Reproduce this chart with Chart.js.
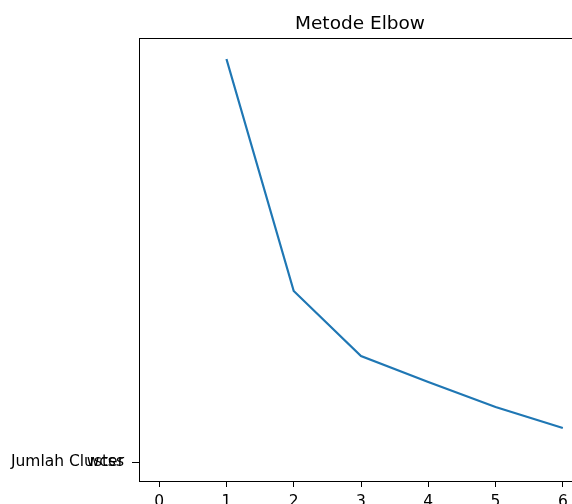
<!DOCTYPE html>
<html>
<head>
<meta charset="utf-8">
<script src="https://cdn.jsdelivr.net/npm/chart.js@4/dist/chart.umd.min.js"></script>
<style>
  html, body { margin: 0; padding: 0; background: #fff; }
  #wrap { width: 572px; height: 504px; overflow: hidden; position: relative; }
  canvas { display: block; }
</style>
</head>
<body>
<div id="wrap">
  <canvas id="elbowChart" width="590" height="504"></canvas>
</div>
<script>
// data (wcss in relative units, 0 = the lone y tick)
const clusters = [1, 2, 3, 4, 5, 6];
const wcss = [403, 171, 106, 80, 55, 34];
const xTicks = [0, 1, 2, 3, 4, 5, 6];
const yTickLabels = ['Jumlah Cluster', 'wcss'];
const chartTitle = 'Metode Elbow';

const FONT = "'DejaVu Sans', sans-serif";

// draws the frame, the title and the overlapping second y label
const extrasPlugin = {
  id: 'extras',
  afterDraw(chart) {
    const { ctx, chartArea } = chart;
    ctx.save();
    ctx.strokeStyle = '#000';
    ctx.lineWidth = 1;
    ctx.strokeRect(chartArea.left + 0.5, chartArea.top + 0.5,
      chartArea.right - chartArea.left, chartArea.bottom - chartArea.top);

    ctx.fillStyle = '#000';
    ctx.font = '18.5px ' + FONT;
    ctx.textAlign = 'center';
    ctx.textBaseline = 'alphabetic';
    ctx.fillText(chartTitle, (chartArea.left + chartArea.right) / 2 - 1, 29);

    const y = chart.scales.y;
    const py = y.getPixelForValue(0);
    ctx.font = '15.5px ' + FONT;
    ctx.textAlign = 'right';
    ctx.textBaseline = 'middle';
    ctx.fillText(yTickLabels[1], chartArea.left - 15, py);
    ctx.restore();
  }
};

const ctx = document.getElementById('elbowChart').getContext('2d');
new Chart(ctx, {
  type: 'line',
  data: {
    datasets: [{
      data: clusters.map((c, i) => ({ x: c, y: wcss[i] })),
      borderColor: '#1f77b4',
      borderWidth: 2.2,
      pointRadius: 0,
      fill: false,
      tension: 0
    }]
  },
  options: {
    responsive: false,
    animation: false,
    layout: { padding: { left: 0, top: 38, right: 7, bottom: 0 } },
    plugins: {
      legend: { display: false },
      title: { display: false },
      tooltip: { enabled: false }
    },
    scales: {
      x: {
        type: 'linear',
        min: -0.3,
        max: 6.3,
        afterBuildTicks: (scale) => { scale.ticks = xTicks.map(v => ({ value: v })); },
        afterFit: (scale) => { scale.height = 23; },
        grid: { drawOnChartArea: false, tickLength: 6, color: '#000' },
        border: { color: '#000' },
        ticks: { color: '#000', padding: 6, maxRotation: 0, font: { family: FONT, size: 15.5 } }
      },
      y: {
        type: 'linear',
        min: -19,
        max: 424,
        afterBuildTicks: (scale) => { scale.ticks = [{ value: 0 }]; },
        afterFit: (scale) => { scale.width = 139; },
        grid: { drawOnChartArea: false, tickLength: 7, color: '#000' },
        border: { color: '#000' },
        ticks: {
          color: '#000',
          padding: 8,
          font: { family: FONT, size: 15.5 },
          callback: () => yTickLabels[0]
        }
      }
    }
  },
  plugins: [extrasPlugin]
});
</script>
</body>
</html>
